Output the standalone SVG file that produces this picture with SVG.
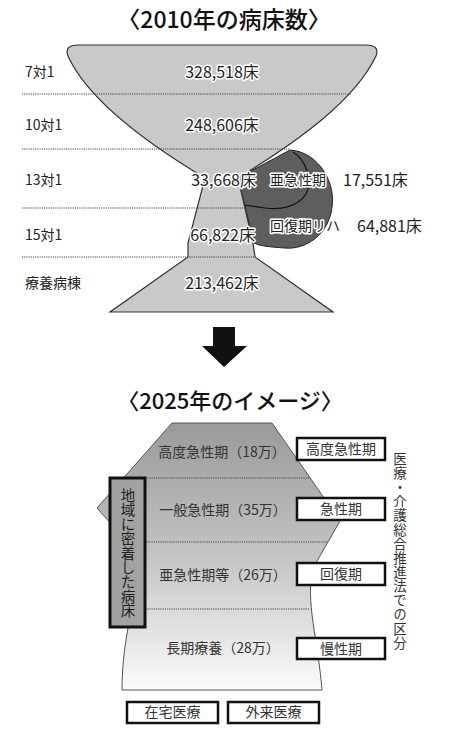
<svg xmlns="http://www.w3.org/2000/svg" width="450" height="729" viewBox="0 0 450 729">
<style>
text{font-family:"Noto Sans CJK JP","Noto Sans",sans-serif;fill:#222}
.t{font-size:23px;text-anchor:middle;fill:#111;font-weight:500}
.lab{font-size:14px}
.num{font-size:16px;paint-order:stroke;stroke:#fff;stroke-width:3px;stroke-linejoin:round}
.halo{font-size:14px;paint-order:stroke;stroke:#fff;stroke-width:3px;stroke-linejoin:round}
.dot{stroke:#444;stroke-width:1;stroke-dasharray:1.2 1;fill:none}
.in{font-size:14px;text-anchor:middle;fill:#333}
.box{fill:#fff;stroke:#111;stroke-width:2.5}
.bt{font-size:14px;text-anchor:middle;fill:#333}
.v{font-size:14.5px;writing-mode:vertical-rl;text-anchor:middle;letter-spacing:-0.1px;fill:#222}
.vr{font-size:13.5px;writing-mode:vertical-rl;text-anchor:middle;letter-spacing:0.65px;fill:#333}
</style>
<defs>
<linearGradient id="g" x1="0" y1="0" x2="0" y2="1">
<stop offset="0" stop-color="#9a9a9a"/>
<stop offset="0.5" stop-color="#c4c4c4"/>
<stop offset="1" stop-color="#fbfbfb"/>
</linearGradient>
</defs>
<g id="title2010"><text class="t" x="224" y="28">〈2010年の病床数〉</text></g>
<g id="dark">
<path d="M290,150 C320,152 336,185 332,207 C329,235 305,250 285,248 C270,247 260,246 254,243 L238,178 Z" fill="#5e5e5e" stroke="#222" stroke-width="1"/>
<path d="M293,152 C306,160 313,180 306,194 C298,207 280,210 265,208 L244,205" fill="none" stroke="#111" stroke-width="1.2"/>
</g>
<g id="bowl">
<path d="M78,45 L366,45 Q380,45 376,56 C355,100 300,140 238,178 L253,243 L255,257 L333,312 L110,312 L188,257 L188,243 L205,178 C145,142 88,100 68,56 Q64,45 78,45 Z" fill="#c9c9c9" stroke="#333" stroke-width="1.2"/>
</g>
<g id="rows">
<line class="dot" x1="22" y1="94" x2="352" y2="94"/>
<line class="dot" x1="22" y1="149" x2="290" y2="149"/>
<line class="dot" x1="22" y1="208" x2="246" y2="208"/>
<line class="dot" x1="22" y1="257" x2="255" y2="257"/>
</g>
<g id="labels2010">
<text class="lab" x="25" y="77">7対1</text>
<text class="lab" x="25" y="130">10対1</text>
<text class="lab" x="25" y="185">13対1</text>
<text class="lab" x="25" y="240">15対1</text>
<text class="lab" x="25" y="288">療養病棟</text>
<text class="num" x="222" y="78" text-anchor="middle">328,518床</text>
<text class="num" x="222" y="131" text-anchor="middle">248,606床</text>
<text class="num" x="256" y="186" text-anchor="end">33,668床</text>
<text class="num" x="255" y="241" text-anchor="end">66,822床</text>
<text class="num" x="222" y="289" text-anchor="middle">213,462床</text>
<text class="halo" x="270" y="185">亜急性期</text>
<text class="num" x="343" y="186">17,551床</text>
<text class="halo" x="270" y="231">回復期リハ</text>
<text class="num" x="357" y="232">64,881床</text>
</g>
<g id="arrow"><polygon points="213,327 235,327 235,346 247,346 224,367 202,346 213,346" fill="#111"/></g>
<g id="title2025"><text class="t" x="230" y="409" style="font-size:22px">〈2025年のイメージ〉</text></g>
<g id="image2025">
<path d="M172,423 L272,423 L340,521 L313,568 C305,600 318,640 322,690 L122,690 C122,670 124,650 128,628 L128,600 L112,525 L97,508 Z" fill="url(#g)" stroke="#555" stroke-width="1"/>
<line class="dot" x1="145" y1="478" x2="309" y2="478"/>
<line class="dot" x1="145" y1="542" x2="328" y2="542"/>
<line class="dot" x1="145" y1="609" x2="309" y2="609"/>
<text class="in" x="222" y="457">高度急性期（18万）</text>
<text class="in" x="223" y="515">一般急性期（35万）</text>
<text class="in" x="223" y="580">亜急性期等（26万）</text>
<text class="in" x="223" y="653">長期療養（28万）</text>
</g>
<g id="local">
<rect x="110" y="478" width="35" height="149" fill="#a2a2a2" stroke="#111" stroke-width="3"/>
<text class="v" x="128" y="553">地域に密着した病床</text>
</g>
<g id="kubun">
<rect class="box" x="297" y="438" width="88" height="22"/>
<text class="bt" x="341" y="454">高度急性期</text>
<rect class="box" x="297" y="498" width="88" height="22"/>
<text class="bt" x="341" y="514">急性期</text>
<rect class="box" x="297" y="563" width="88" height="22"/>
<text class="bt" x="341" y="579">回復期</text>
<rect class="box" x="297" y="638" width="88" height="21"/>
<text class="bt" x="341" y="654">慢性期</text>
<text class="vr" x="400" y="551">医療・介護総合推進法での区分</text>
</g>
<g id="home">
<rect class="box" x="127" y="702" width="91" height="21"/>
<text class="bt" x="172.5" y="717">在宅医療</text>
</g>
<g id="outpatient">
<rect class="box" x="228" y="702" width="91" height="21"/>
<text class="bt" x="273.5" y="717">外来医療</text>
</g>
</svg>
